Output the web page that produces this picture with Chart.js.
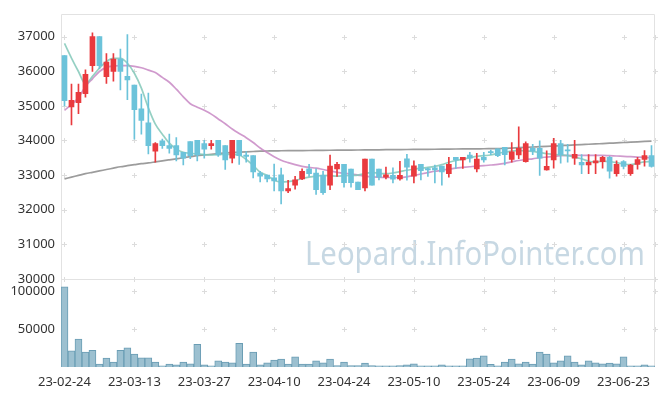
<!DOCTYPE html>
<html lang="ko">
  <head>
    <meta charset="UTF-8" />
    <title>Stock chart</title>
    <style>
      body {
        margin: 0;
        background-color: white;
      }
      #stock-chart {
        display: block;
      }
    </style>
  </head>
  <body>
    <script src="https://cdn.jsdelivr.net/npm/chart.js@4.4.1/dist/chart.umd.min.js"></script>
    <canvas id="stock-chart" width="665" height="396"></canvas>
    <script>
      var dates = [
        "23-02-24", "23-02-27", "23-02-28", "23-03-02", "23-03-03", "23-03-06", "23-03-07", "23-03-08", "23-03-09", "23-03-10",
        "23-03-13", "23-03-14", "23-03-15", "23-03-16", "23-03-17", "23-03-20", "23-03-21", "23-03-22", "23-03-23", "23-03-24",
        "23-03-27", "23-03-28", "23-03-29", "23-03-30", "23-03-31", "23-04-03", "23-04-04", "23-04-05", "23-04-06", "23-04-07",
        "23-04-10", "23-04-11", "23-04-12", "23-04-13", "23-04-14", "23-04-17", "23-04-18", "23-04-19", "23-04-20", "23-04-21",
        "23-04-24", "23-04-25", "23-04-26", "23-04-27", "23-04-28", "23-05-02", "23-05-03", "23-05-04", "23-05-08", "23-05-09",
        "23-05-10", "23-05-11", "23-05-12", "23-05-15", "23-05-16", "23-05-17", "23-05-18", "23-05-19", "23-05-22", "23-05-23",
        "23-05-24", "23-05-25", "23-05-26", "23-05-30", "23-05-31", "23-06-01", "23-06-02", "23-06-05", "23-06-07", "23-06-08",
        "23-06-09", "23-06-12", "23-06-13", "23-06-14", "23-06-15", "23-06-16", "23-06-19", "23-06-20", "23-06-21", "23-06-22",
        "23-06-23", "23-06-26", "23-06-27", "23-06-28", "23-06-29"
      ];
      var openPrice = [
        36450, 34970, 35090, 35350, 36160, 37000, 35840, 35990, 36350, 35850,
        35600, 34910, 34510, 33690, 33990, 33850, 33850, 33660, 33970, 34000,
        33910, 33850, 34000, 33850, 33490, 34000, 33580, 33560, 33060, 33000,
        32920, 33010, 32540, 32710, 32890, 33180, 33060, 32990, 32710, 33180,
        33310, 33170, 32800, 32630, 33460, 33170, 32940, 32990, 32890, 33470,
        32970, 33310, 33190, 33210, 33260, 33040, 33510, 33440, 33580, 33180,
        33510, 33680, 33760, 33800, 33450, 33580, 33390, 33770, 33770, 33150,
        33440, 33910, 33730, 33490, 33370, 33290, 33350, 33390, 33510, 33040,
        33390, 33040, 33310, 33450, 33560
      ];
      var highPrice = [
        36450, 35630, 35630, 36040, 37110, 37000, 36510, 36510, 36640, 37060,
        35600, 35340, 35370, 33940, 34040, 34180, 34080, 33660, 33970, 34000,
        34000, 34000, 34000, 33850, 34000, 34000, 33680, 33560, 33110, 33000,
        33320, 33200, 32850, 32960, 33180, 33310, 33180, 33110, 33580, 33370,
        33310, 33170, 32800, 33460, 33460, 33170, 33230, 33210, 33400, 33600,
        33410, 33310, 33210, 33290, 33260, 33510, 33510, 33510, 33660, 33630,
        33660, 33720, 33760, 33800, 33940, 34390, 33960, 33890, 33990, 33700,
        34060, 34000, 33890, 34000, 33590, 33590, 33590, 33540, 33540, 33410,
        33420, 33310, 33510, 33710, 33850
      ];
      var lowPrice = [
        35000, 34450, 34770, 35250, 35990, 36070, 35650, 35710, 35460, 35180,
        34040, 34180, 33610, 33370, 33770, 33630, 33410, 33290, 33470, 33410,
        33490, 33750, 33540, 33160, 33350, 33310, 33370, 32920, 32800, 32800,
        32540, 32170, 32490, 32590, 32870, 32960, 32440, 32440, 32580, 32960,
        32650, 32650, 32580, 32540, 32710, 32860, 32890, 32770, 32850, 32850,
        32770, 32860, 32960, 32770, 32710, 32940, 33190, 33190, 33370, 33090,
        33370, 33590, 33530, 33290, 33370, 33470, 33370, 33590, 32990, 33140,
        33200, 33340, 33370, 33310, 33040, 33040, 33040, 33200, 32910, 32970,
        33180, 32990, 33170, 33260, 33230
      ];
      var closePrice = [
        35150, 35160, 35390, 35910, 37000, 36160, 36260, 36350, 35990, 35750,
        34890, 34580, 33850, 33910, 33850, 33770, 33580, 33490, 33560, 33580,
        33750, 33910, 33580, 33440, 34000, 33560, 33540, 33090, 32970, 32890,
        32830, 32540, 32610, 32860, 33110, 33040, 32580, 32490, 33260, 33310,
        32780, 32780, 32580, 33460, 32710, 32940, 33010, 32880, 32990, 33230,
        33270, 33130, 33150, 33150, 33090, 33310, 33440, 33510, 33490, 33460,
        33440, 33650, 33560, 33590, 33670, 33770, 33910, 33690, 33490, 33250,
        33910, 33590, 33700, 33600, 33290, 33370, 33410, 33510, 33110, 33310,
        33250, 33290, 33450, 33560, 33250
      ];
      var volume = [
        106100, 21300, 36900, 19600, 22200, 3900, 11800, 6500, 22200, 25200,
        17000, 12100, 12100, 6500, 1700, 3900, 3000, 6500, 4300, 30000,
        3000, 1700, 8200, 6500, 5600, 31300, 3900, 19600, 3000, 5600,
        9100, 10400, 3900, 13500, 3900, 3900, 8200, 5600, 10600, 2000,
        6500, 1800, 1800, 5200, 1800, 1600, 1600, 1600, 1800, 3000,
        4300, 1600, 1600, 1600, 3000, 1600, 1600, 1600, 10800, 11800,
        14800, 3500, 1700, 6500, 10400, 4300, 6500, 3900, 19600, 17000,
        5600, 8200, 14800, 6500, 3000, 8200, 5600, 4300, 5200, 4300,
        13500, 1700, 1700, 3000, 1500
      ];
      // moving averages
      var maShort = [
        36800, 36380, 35990, 35630, 35850, 36090, 36280, 36370, 36370, 36230,
        35940, 35510, 34940, 34470, 34180, 33920, 33750, 33660, 33630, 33610,
        33590, 33580, 33590, 33600, 33600, 33580, 33450, 33280, 33080, 32990,
        32850, 32800, 32810, 32840, 32900, 32940, 32970, 32990, 32980, 32970,
        32980, 32990, 33000, 33040, 33080, 33050, 33040, 33060, 33100, 33140,
        33170, 33200, 33220, 33250, 33300, 33370, 33420, 33460, 33500, 33540,
        33560, 33580, 33630, 33660, 33690, 33710, 33700, 33680, 33650, 33620,
        33600, 33580, 33560, 33520, 33470, 33400, 33380, 33400, 33390, 33360,
        33320, 33300, 33340, 33380, 33390
      ];
      var maMid = [
        34870, 35040, 35230, 35560, 35780, 35990, 36110, 36150, 36160, 36160,
        36140, 36100, 36030, 35960, 35820, 35680, 35480, 35260, 35060, 34960,
        34870, 34760, 34620, 34480, 34330, 34200, 34080, 33940, 33780, 33650,
        33530, 33430, 33360, 33300, 33250, 33220, 33200, 33160, 33120, 33080,
        33050, 33030, 33000, 32970, 32950, 32940, 32930, 32930, 32930, 32950,
        32990, 33030, 33070, 33110, 33140, 33170, 33200, 33220, 33240, 33260,
        33270, 33290, 33310, 33340, 33380, 33420, 33450, 33470, 33500, 33520,
        33540, 33560, 33570, 33570, 33570, 33570, 33570, 33570, 33560, 33550,
        33540, 33530, 33520, 33510, 33500
      ];
      var maLong = [
        32890, 32940, 32990, 33040, 33080, 33120, 33160, 33200, 33240, 33270,
        33300, 33330, 33350, 33380, 33410, 33440, 33470, 33500, 33530, 33560,
        33580, 33600, 33620, 33640, 33650, 33660, 33670, 33680, 33690, 33695,
        33700, 33702, 33704, 33706, 33708, 33710, 33712, 33714, 33716, 33718,
        33720, 33722, 33724, 33726, 33728, 33730, 33732, 33734, 33736, 33738,
        33740, 33742, 33744, 33746, 33748, 33750, 33752, 33754, 33756, 33758,
        33760, 33763, 33766, 33770, 33780, 33790, 33800, 33810, 33820, 33830,
        33840, 33850, 33860, 33870, 33880, 33890, 33900, 33910, 33920, 33930,
        33940, 33950, 33960, 33970, 33980
      ];
      var priceTicks = [30000, 31000, 32000, 33000, 34000, 35000, 36000, 37000];
      var volumeTicks = [50000, 100000];

      var upColor = "#e93a3e";
      var downColor = "#6cc3da";

      var candleColors = openPrice.map(function (o, i) {
        return closePrice[i] >= o ? upColor : downColor;
      });
      var bodies = openPrice.map(function (o, i) {
        return [o, closePrice[i]];
      });
      var wicks = lowPrice.map(function (l, i) {
        return [l, highPrice[i]];
      });

      // crosses instead of grid lines, plot frame and the site watermark
      var decor = {
        id: "decor",
        beforeDatasetsDraw: function (chart) {
          var ctx = chart.ctx;
          var a = chart.chartArea;
          var sx = chart.scales.x;
          var sy = chart.scales.y;
          var sv = chart.scales.yv;
          ctx.save();

          ctx.font = "32px 'Noto Sans'";
          ctx.fillStyle = "rgba(180, 203, 218, 0.75)";
          ctx.textAlign = "right";
          ctx.textBaseline = "alphabetic";
          var txt = "Leopard.InfoPointer.com";
          var w = ctx.measureText(txt).width;
          ctx.translate(645, 265);
          ctx.scale(340 / w, 1);
          ctx.fillText(txt, 0, 0);
          ctx.setTransform(1, 0, 0, 1, 0, 0);

          var xs = [];
          for (var i = 0; i < dates.length; i += 10) xs.push(sx.getPixelForValue(i));
          xs.push(a.right);
          var ys = [];
          priceTicks.forEach(function (t) { ys.push(sy.getPixelForValue(t)); });
          volumeTicks.forEach(function (t) { ys.push(sv.getPixelForValue(t)); });
          ctx.strokeStyle = "#dcdcdc";
          ctx.lineWidth = 1;
          ctx.beginPath();
          xs.forEach(function (x) {
            ys.forEach(function (y) {
              var px = Math.round(x) + 0.5;
              var py = Math.round(y) + 0.5;
              ctx.moveTo(px - 2.5, py);
              ctx.lineTo(px + 2.5, py);
              ctx.moveTo(px, py - 2.5);
              ctx.lineTo(px, py + 2.5);
            });
          });
          ctx.stroke();

          ctx.strokeStyle = "#e2e2e2";
          ctx.beginPath();
          ctx.rect(Math.round(a.left) + 0.5, Math.round(a.top) + 0.5, Math.round(a.width) - 1, Math.round(a.height) - 1);
          ctx.moveTo(a.left, Math.round(sy.bottom) + 0.5);
          ctx.lineTo(a.right, Math.round(sy.bottom) + 0.5);
          ctx.stroke();
          ctx.restore();
        },
      };

      var tickFont = { family: "'Noto Sans', sans-serif", size: 13 };
      var plainNumber = function (v) {
        return String(v);
      };

      var chart = new Chart(document.getElementById("stock-chart"), {
        type: "bar",
        data: {
          labels: dates,
          datasets: [
            {
              type: "line",
              data: maShort,
              yAxisID: "y",
              borderColor: "rgba(130, 200, 184, 0.85)",
              borderWidth: 1.7,
              pointRadius: 0,
              cubicInterpolationMode: "monotone",
              order: 3,
            },
            {
              type: "line",
              data: maMid,
              yAxisID: "y",
              borderColor: "rgba(200, 136, 196, 0.85)",
              borderWidth: 1.7,
              pointRadius: 0,
              cubicInterpolationMode: "monotone",
              order: 3,
            },
            {
              type: "line",
              data: maLong,
              yAxisID: "y",
              borderColor: "rgba(145, 145, 145, 0.9)",
              borderWidth: 1.7,
              pointRadius: 0,
              cubicInterpolationMode: "monotone",
              order: 3,
            },
            {
              data: wicks,
              yAxisID: "y",
              backgroundColor: candleColors,
              barThickness: 1,
              grouped: false,
              order: 2,
            },
            {
              data: bodies,
              yAxisID: "y",
              backgroundColor: candleColors,
              barThickness: 5,
              grouped: false,
              order: 1,
            },
            {
              data: volume,
              yAxisID: "yv",
              backgroundColor: "#9cc0d0",
              borderColor: "#6a9db4",
              borderWidth: 1,
              barPercentage: 1,
              categoryPercentage: 1,
              grouped: false,
              order: 1,
            },
          ],
        },
        options: {
          responsive: false,
          animation: false,
          layout: { padding: { top: 10, right: 10, left: 0, bottom: 0 } },
          plugins: {
            legend: { display: false },
            tooltip: { enabled: false },
          },
          scales: {
            x: {
              offset: true,
              grid: { display: false, drawTicks: false },
              border: { display: false },
              ticks: {
                autoSkip: false,
                maxRotation: 0,
                padding: 7,
                color: "#333",
                font: tickFont,
                callback: function (v, i) {
                  return i % 10 === 0 ? dates[i] : "";
                },
              },
              afterFit: function (s) {
                s.height = 29;
              },
            },
            yv: {
              position: "left",
              stack: "panels",
              stackWeight: 89,
              min: 0,
              max: 116500,
              grid: { display: false, drawTicks: false },
              border: { display: false },
              ticks: { padding: 6, color: "#333", font: tickFont, callback: plainNumber },
              afterBuildTicks: function (s) {
                s.ticks = volumeTicks.map(function (v) { return { value: v }; });
              },
              afterFit: function (s) {
                s.width = 61;
              },
            },
            y: {
              position: "left",
              stack: "panels",
              stackWeight: 268,
              min: 30000,
              max: 37657,
              grid: { display: false, drawTicks: false },
              border: { display: false },
              ticks: { padding: 6, color: "#333", font: tickFont, callback: plainNumber },
              afterBuildTicks: function (s) {
                s.ticks = priceTicks.map(function (v) { return { value: v }; });
              },
              afterFit: function (s) {
                s.width = 61;
              },
            },
          },
        },
        plugins: [decor],
      });
    </script>
  </body>
</html>
